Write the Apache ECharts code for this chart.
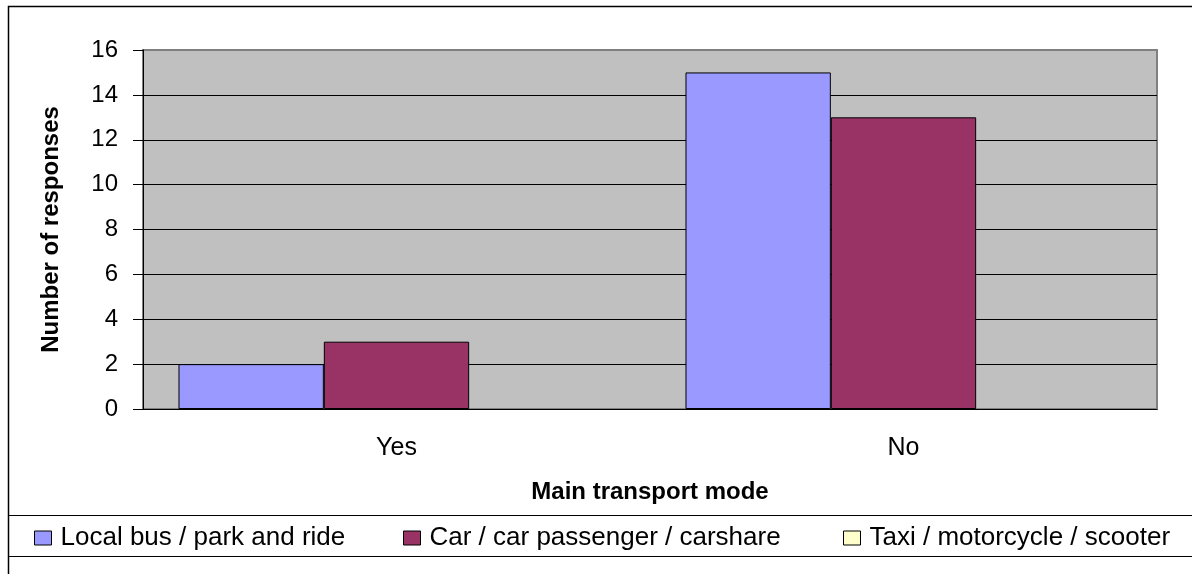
<!DOCTYPE html>
<html>
<head>
<meta charset="utf-8">
<script src="https://cdn.jsdelivr.net/npm/echarts@6/dist/echarts.min.js"></script>
<style>
  html, body { margin: 0; padding: 0; background: #fff; }
  #chart { width: 1192px; height: 574px; }
</style>
</head>
<body>
<div id="chart"></div>
<script>
// categories and values
var categories = ['Yes', 'No'];
var seriesNames = ['Local bus / park and ride', 'Car / car passenger / carshare', 'Taxi / motorcycle / scooter'];
var busData = [2, 15];
var carData = [3, 13];
var taxiData = [0, 0];
var colors = ['#9999FF', '#993366', '#FFFFCC'];

var myChart = echarts.init(document.getElementById('chart'));
var font = 'Liberation Sans, Arial, sans-serif';

// one legend per item so each can sit where the reference puts it
function legendFor(name, left) {
    return {
        data: [name],
        left: left,
        top: 525,
        padding: 0,
        icon: 'rect',
        itemWidth: 17,
        itemHeight: 14,
        itemGap: 0,
        selectedMode: false,
        itemStyle: { borderColor: '#000', borderWidth: 1 },
        textStyle: { color: '#000', fontSize: 26, fontFamily: font, padding: [0, 0, 0, 4] }
    };
}

var option = {
    backgroundColor: '#fff',
    color: colors,
    animation: false,
    legend: [
        legendFor(seriesNames[0], 34),
        legendFor(seriesNames[1], 403),
        legendFor(seriesNames[2], 843)
    ],
    grid: {     //plot area
        left: 143,
        right: 35,
        top: 50,
        bottom: 165,
        show: true,
        backgroundColor: '#C0C0C0',
        borderColor: '#808080',
        borderWidth: 2
    },
    xAxis: {
        type: 'category',
        data: categories,
        name: 'Main transport mode',
        nameLocation: 'middle',
        nameGap: 71,
        nameTextStyle: { color: '#000', fontSize: 24, fontWeight: 'bold', fontFamily: font },
        axisLine: { lineStyle: { color: '#000', width: 1 } },
        axisTick: { length: 8, lineStyle: { color: '#000' } },
        axisLabel: { color: '#000', fontSize: 25, fontFamily: font, margin: 27 }
    },
    yAxis: {
        type: 'value',
        min: 0,
        max: 16,
        interval: 2,
        name: 'Number of responses',
        nameLocation: 'middle',
        nameGap: 80,
        nameTextStyle: { color: '#000', fontSize: 24, fontWeight: 'bold', fontFamily: font },
        axisLine: { show: true, lineStyle: { color: '#000', width: 1 } },
        axisTick: { show: true, length: 10, lineStyle: { color: '#000' } },
        axisLabel: { color: '#000', fontSize: 24, fontFamily: font, margin: 25 },
        splitLine: { showMaxLine: false, lineStyle: { color: '#000', width: 1 } }
    },
    series: [
        {
            name: seriesNames[0],
            type: 'bar',
            data: busData,
            barGap: '0%',
            barCategoryGap: '14%',
            itemStyle: { color: colors[0], borderColor: '#000', borderWidth: 1 }
        },
        {
            name: seriesNames[1],
            type: 'bar',
            data: carData,
            itemStyle: { color: colors[1], borderColor: '#000', borderWidth: 1 }
        },
        {
            name: seriesNames[2],
            type: 'bar',
            data: taxiData,
            itemStyle: { color: colors[2], borderWidth: 0 }
        }
    ],
    graphic: [
        // outer frame (left and top)
        { type: 'polyline', silent: true, shape: { points: [[8.5, 574], [8.5, 6.5], [1192, 6.5]] },
          style: { stroke: '#000', lineWidth: 1.5, fill: null } },
        // legend box lines
        { type: 'line', silent: true, shape: { x1: 8, y1: 515.5, x2: 1192, y2: 515.5 },
          style: { stroke: '#000', lineWidth: 1 } },
        { type: 'line', silent: true, shape: { x1: 8, y1: 556.5, x2: 1192, y2: 556.5 },
          style: { stroke: '#000', lineWidth: 1 } }
    ]
};

myChart.setOption(option);
</script>
</body>
</html>
